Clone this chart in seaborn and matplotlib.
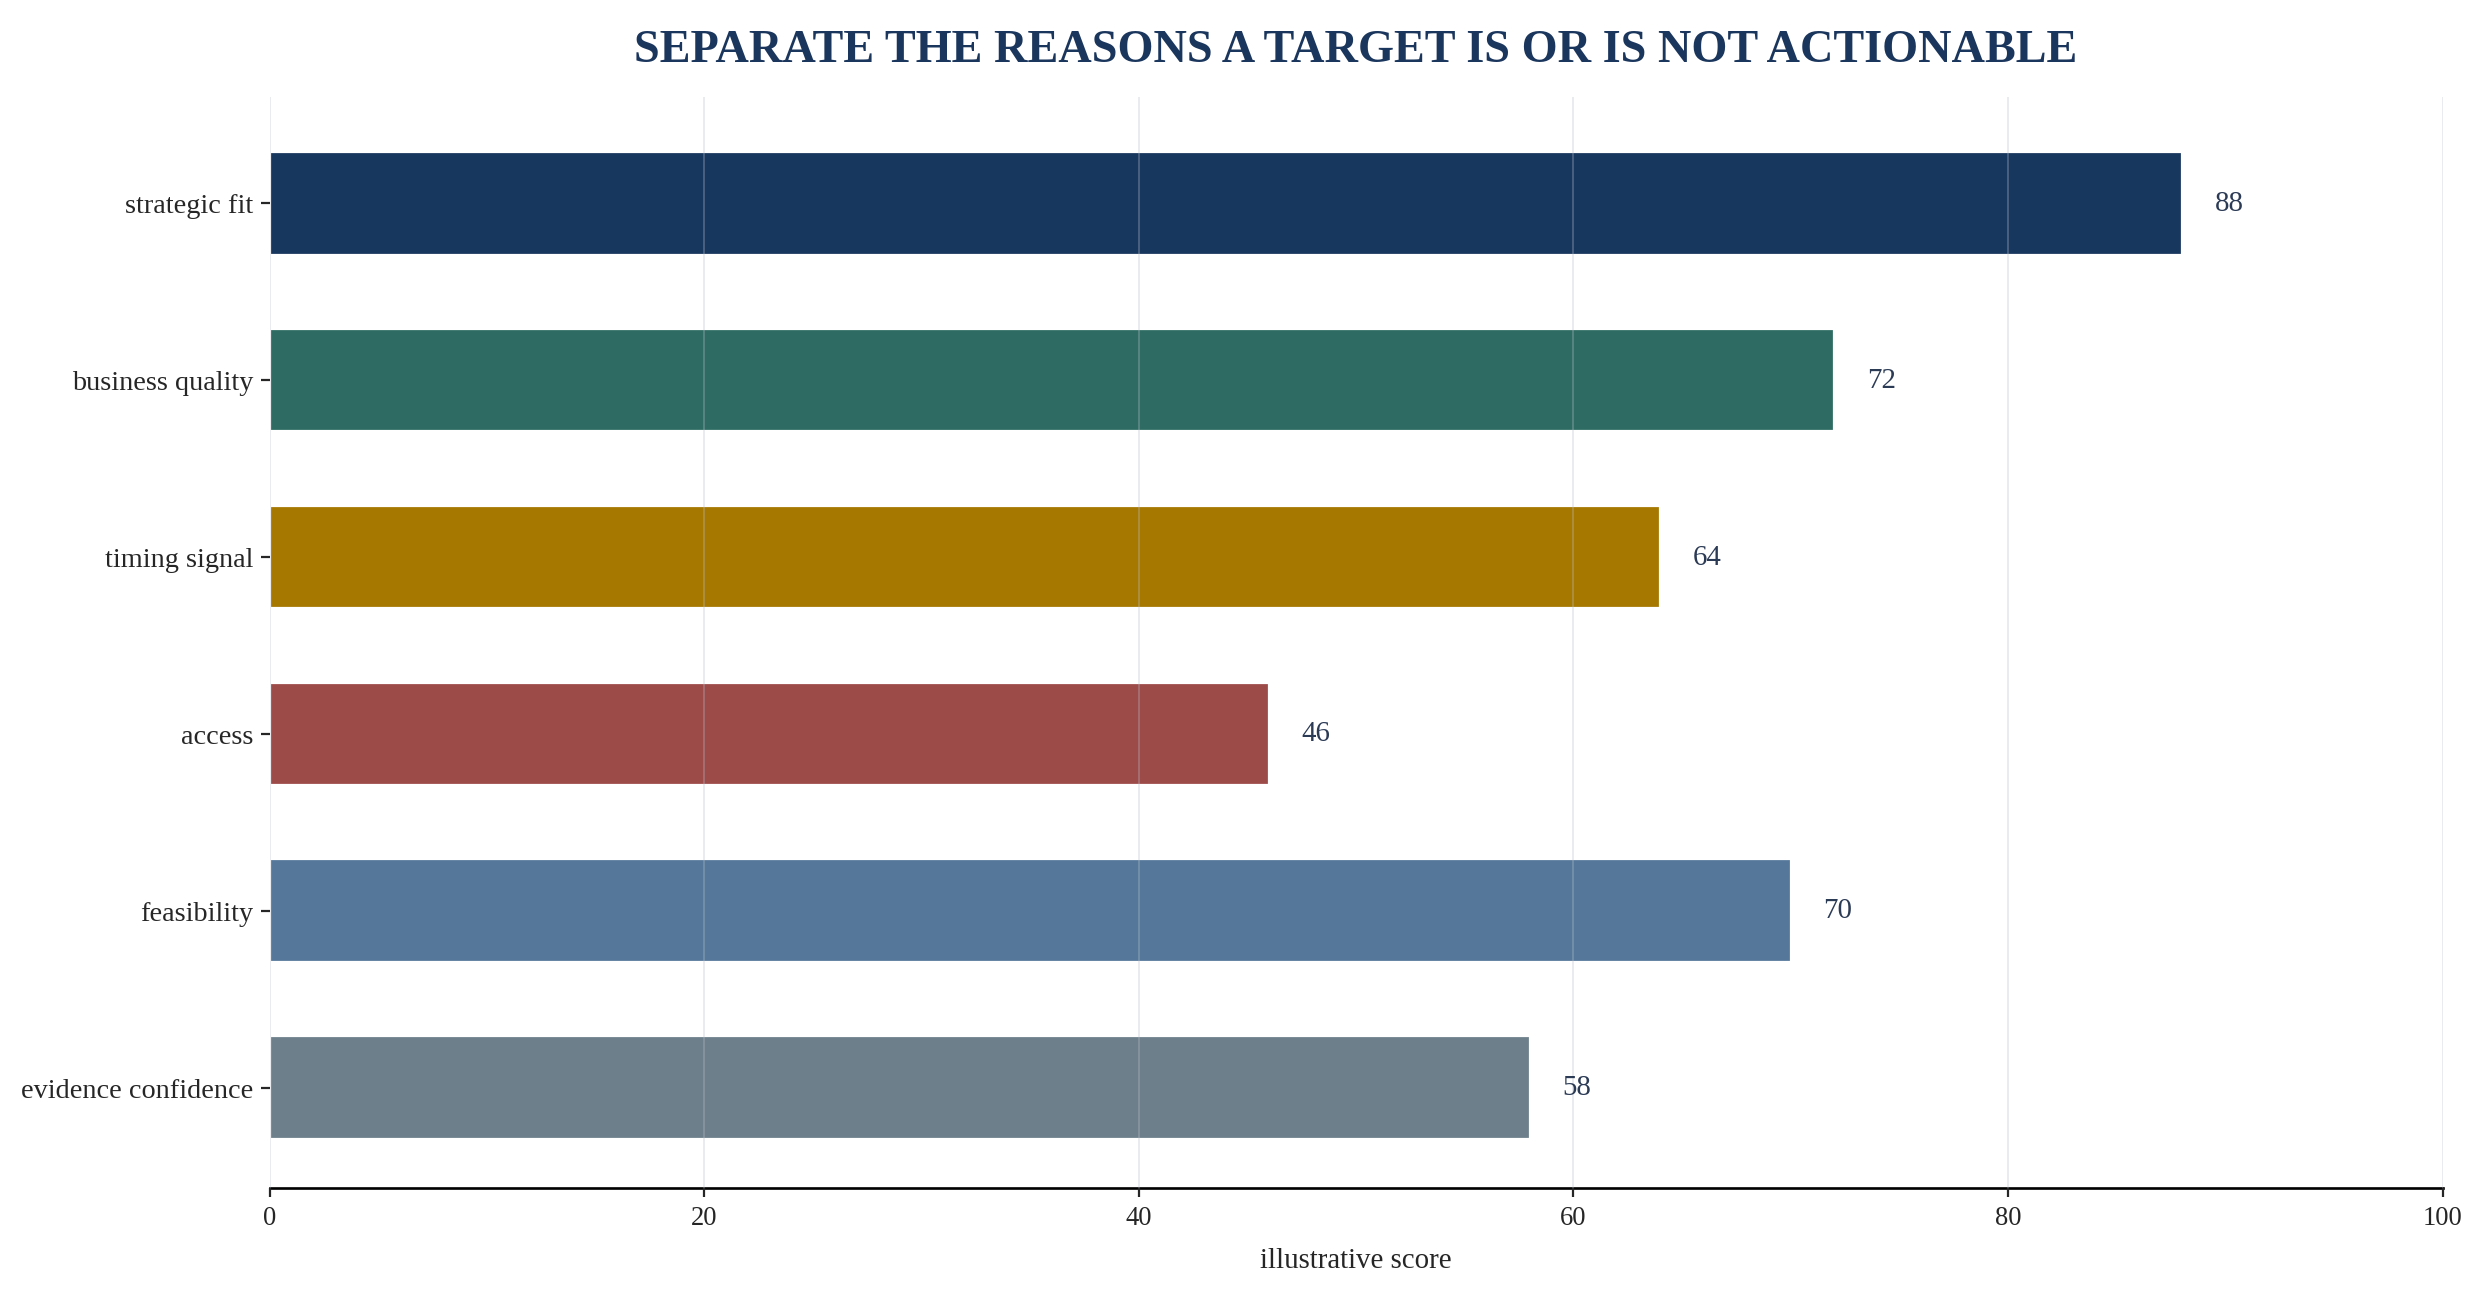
import pandas as pd
import seaborn as sns
import matplotlib.pyplot as plt

# scores per reason
categories = ["strategic fit", "business quality", "timing signal",
              "access", "feasibility", "evidence confidence"]
scores = [88, 72, 64, 46, 70, 58]
colors = ["#18375e", "#2e6b62", "#a67800", "#9d4b48", "#557799", "#6e7f8c"]

df = pd.DataFrame({"reason": categories, "score": scores})

sns.set_style("white")
plt.rcParams['font.family'] = ['Liberation Serif', 'DejaVu Serif']

fig = plt.figure(figsize=(15.53, 8.11), dpi=160)
ax = fig.add_axes([0.1085, 0.0837, 0.8745, 0.841])

sns.barplot(data=df, x="score", y="reason", hue="reason", palette=colors,
            legend=False, width=0.58, saturation=1, ax=ax)

for i, v in enumerate(scores):
    ax.text(v + 1.5, i, f"{v}", va="center", ha="left", fontsize=13, color="#2b3a55")

ax.set_xlim(0, 100)
ax.set_ylim(5.57, -0.6)
ax.set_title("SEPARATE THE REASONS A TARGET IS OR IS NOT ACTIONABLE",
             fontsize=20.8, fontweight="bold", color="#1b365d", pad=16)
ax.set_xlabel("illustrative score", fontsize=13, labelpad=8)
ax.set_ylabel("")
ax.tick_params(axis="y", labelsize=12.7, length=4, width=1, left=True)
ax.tick_params(axis="x", labelsize=12, length=4, width=1, bottom=True)

ax.grid(axis="x", color="#b8c0c8", alpha=0.3, linewidth=0.9)
ax.set_axisbelow(False)
for s in ["top", "right", "left"]:
    ax.spines[s].set_visible(False)
ax.spines["bottom"].set_color("black")
ax.spines["bottom"].set_linewidth(1.2)

fig.savefig("out.png", dpi=160)
